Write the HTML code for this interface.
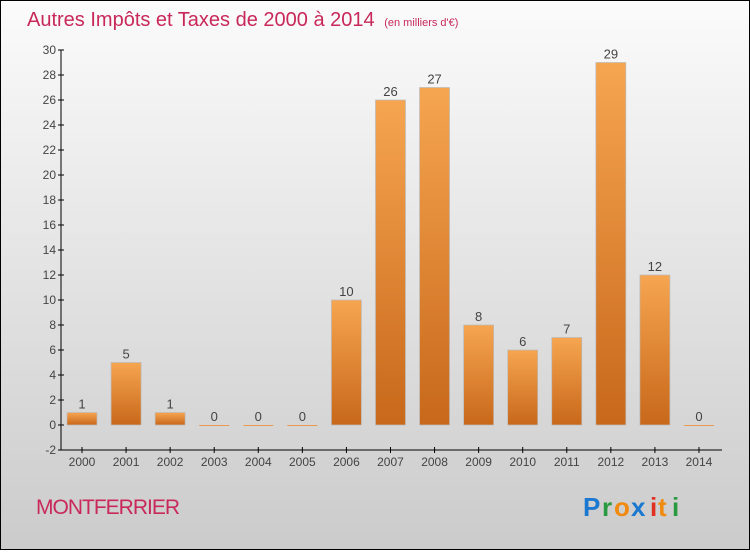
<!DOCTYPE html>
<html><head><meta charset="utf-8"><style>
html,body{margin:0;padding:0}
body{width:750px;height:550px;overflow:hidden;font-family:"Liberation Sans",sans-serif}
</style></head><body>
<svg width="750" height="550" xmlns="http://www.w3.org/2000/svg">
<defs>
<linearGradient id="bg" x1="0" y1="0" x2="0" y2="1"><stop offset="0" stop-color="#fbfbfb"/><stop offset="1" stop-color="#cbcbcb"/></linearGradient>
<linearGradient id="bar" x1="0" y1="0" x2="0" y2="1"><stop offset="0" stop-color="#f6a550"/><stop offset="1" stop-color="#c8681a"/></linearGradient>
</defs>
<rect x="0.5" y="0.5" width="749" height="549" fill="url(#bg)" stroke="#000"/>
<text x="27" y="26" font-size="20" fill="#c8285a">Autres Impôts et Taxes de 2000 à 2014 <tspan font-size="11" dx="4">(en milliers d'€)</tspan></text>
<g id="axes"></g>
<g id="bars"></g>
<text x="36" y="514" font-size="21" fill="#c8285a" letter-spacing="-1">MONTFERRIER</text>
<g font-size="26" font-family="'Liberation Sans',sans-serif" font-weight="bold">
<text x="583" y="516" fill="#1a78d0">P</text><text x="602" y="516" fill="#2a9a40">r</text><text x="614" y="516" fill="#f08a10">o</text><text x="631" y="516" fill="#1a78d0">x</text><text x="650" y="516" fill="#e03020">i</text><text x="658" y="516" fill="#f08a10">t</text><text x="672" y="516" fill="#2a9a40">i</text>
</g>
</svg>
<script>
const years=["2000","2001","2002","2003","2004","2005","2006","2007","2008","2009","2010","2011","2012","2013","2014"];
const values=[1,5,1,0,0,0,10,26,27,8,6,7,29,12,0];
const yTicks=[-2,0,2,4,6,8,10,12,14,16,18,20,22,24,26,28,30];
const NS="http://www.w3.org/2000/svg";
const y=v=>425-v*12.5;
const x=i=>82+i*44.07;
function mk(t,a,p,txt){const e=document.createElementNS(NS,t);for(const k in a)e.setAttribute(k,a[k]);if(txt!==undefined)e.textContent=txt;p.appendChild(e);return e;}
const ax=document.getElementById('axes'),bg=document.getElementById('bars');
let l=mk('line',{x1:61,y1:y(30),x2:61,y2:y(-2),stroke:'#000'},ax);


l=mk('line',{x1:61,y1:y(-2),x2:722,y2:y(-2),stroke:'#000'},ax);


yTicks.forEach(v=>{
  mk('line',{x1:58,y1:y(v),x2:64,y2:y(v),stroke:'#000'},ax);
  const t=mk('text',{x:56,y:y(v)+4,'font-size':12,fill:'#444','text-anchor':'end'},ax,v);
  
  
});
years.forEach((yr,i)=>{
  mk('line',{x1:x(i),y1:y(-2)-3,x2:x(i),y2:y(-2)+3,stroke:'#000'},ax);
  const t=mk('text',{x:x(i),y:466,'font-size':12,fill:'#444','text-anchor':'middle'},ax,yr);
  
  
  const v=values[i];
  let r;
  if(v>0){
    r=mk('rect',{x:x(i)-15,y:y(v),width:30,height:y(0)-y(v),fill:'url(#bar)',stroke:'#bbb','stroke-width':0.7},bg);
  } else {
    r=mk('rect',{x:x(i)-15,y:y(0),width:30,height:1,fill:'#e89a50'},bg);
  }
  
  
  const lb=mk('text',{x:x(i),y:y(v)-4,'font-size':13,fill:'#444','text-anchor':'middle'},bg,v);
  
  
});
</script>
</body></html>
